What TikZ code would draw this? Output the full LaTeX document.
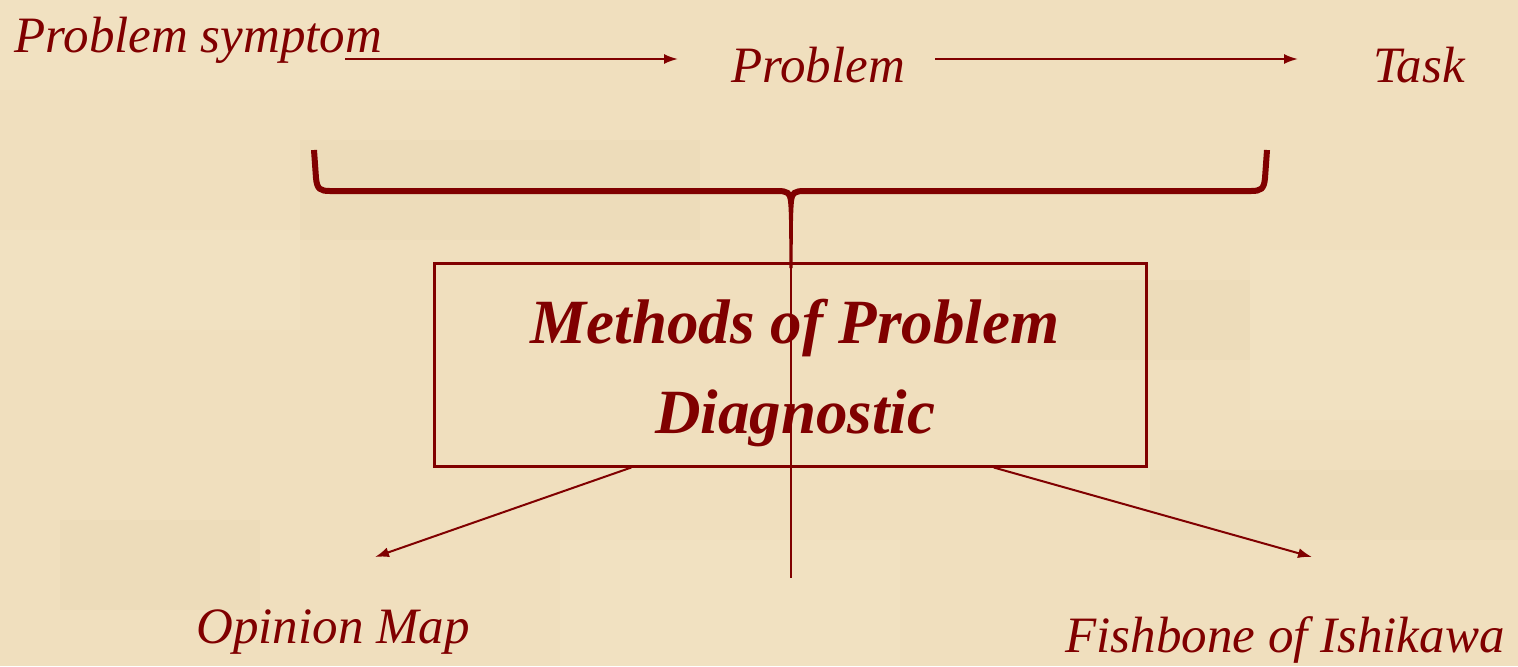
\documentclass[tikz,border=0pt]{standalone}
\usepackage{fontspec}
\setmainfont{Liberation Serif}
\usetikzlibrary{arrows.meta,calc}
\definecolor{bg}{RGB}{240,223,190}
\definecolor{bglight}{RGB}{248,234,205}
\definecolor{bgdark}{RGB}{228,210,172}
\definecolor{maroon}{RGB}{128,0,0}
\begin{document}
\begin{tikzpicture}[x=0.5pt,y=-0.5pt,
  lbl/.style={text=maroon,font=\fontsize{25.5}{30}\selectfont\itshape,inner sep=0pt},
  ttl/.style={text=maroon,font=\fontsize{31.5}{42.5}\selectfont\bfseries\itshape,inner sep=0pt},
  boxst/.style={draw=maroon,line width=1.5pt,minimum width=356pt,minimum height=101.5pt,inner sep=0pt},
  arr/.style={draw=maroon,line width=1pt,-{Latex[length=7pt,width=5pt]}},
  bracest/.style={draw=maroon,line width=3pt},
  stem/.style={draw=maroon,line width=1.2pt},
]
\fill[bg] (0,0) rectangle (1518,666);
\useasboundingbox (0,0) rectangle (1518,666);
% subtle parchment texture
\begin{scope}[opacity=0.22]
\fill[bglight] (0,0) rectangle (520,90);
\fill[bglight] (1250,250) rectangle (1518,420);
\fill[bglight] (0,230) rectangle (300,330);
\fill[bglight] (560,540) rectangle (900,666);
\fill[bgdark] (300,140) rectangle (700,240);
\fill[bgdark] (1000,280) rectangle (1250,360);
\fill[bgdark] (60,520) rectangle (260,610);
\fill[bgdark] (1150,470) rectangle (1518,540);
\end{scope}

% top labels
\node[lbl,anchor=base west] (ps) at (14,52) {Problem symptom};
\node[lbl,anchor=base] (pr) at (818,82) {Problem};
\node[lbl,anchor=base] (tk) at (1419,82) {Task};

\coordinate (a1s) at (345,59);
\coordinate (a1e) at (678,59);
\coordinate (a2s) at (935,59);
\coordinate (a2e) at (1298,59);
\draw[arr] (a1s) -- (a1e);
\draw[arr] (a2s) -- (a2e);

% central box
\node[boxst] (box) at (790,364.5) {};
\node[ttl,anchor=base] (t1) at (795,343) {Methods of Problem};
\node[ttl,anchor=base] (t2) at (795,433) {Diagnostic};

% brace
\coordinate (bl) at (314,150);
\coordinate (br) at (1267,150);
\coordinate (bt) at (791,200);
\draw[bracest] (bl) -- (316,178) .. controls (317,189) and (320,191) .. (330,191) -- (778,191) .. controls (787,191) and (790,193) .. (bt);
\draw[bracest] (br) -- (1265,178) .. controls (1264,189) and (1261,191) .. (1251,191) -- (804,191) .. controls (795,191) and (792,193) .. (bt);
\fill[maroon] (785,192) .. controls (789,194) and (789.3,212) .. (789.3,268) -- (792.7,268) .. controls (792.7,212) and (793,194) .. (797,192) -- cycle;
\coordinate (vend) at (791,578);
\draw[stem] (bt) -- (vend);

% bottom labels
\node[lbl,anchor=base west] (om) at (196,643) {Opinion Map};
\node[lbl,anchor=base east] (fi) at (1505,652) {Fishbone of Ishikawa};
\coordinate (omt) at (375,557);
\coordinate (fit) at (1312,557);
\draw[arr] ($(box.south west)!0.278!(box.south east)$) -- (omt);
\draw[arr] ($(box.south west)!0.785!(box.south east)$) -- (fit);
\end{tikzpicture}
\end{document}
